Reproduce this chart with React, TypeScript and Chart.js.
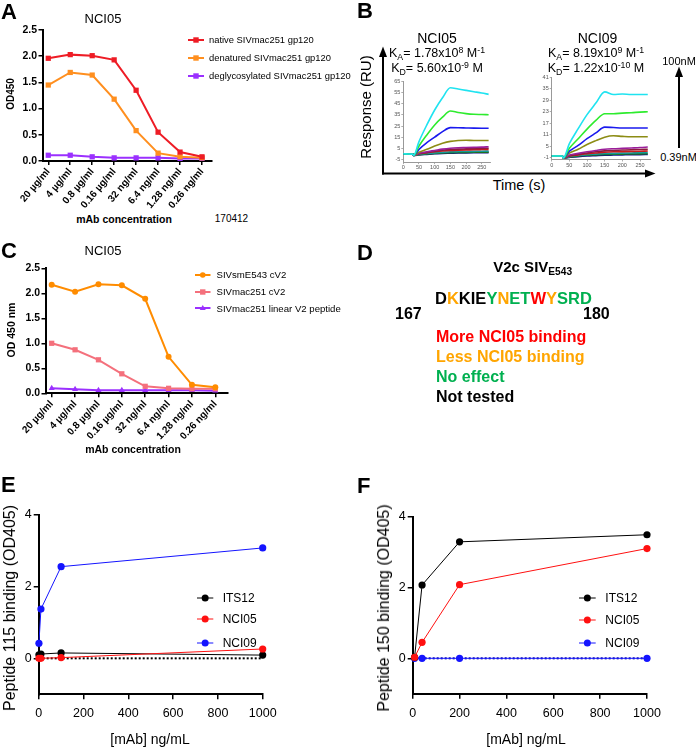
import React, { useEffect, useRef } from "react";
import { Chart, registerables } from "chart.js";

Chart.register(...registerables);

// ---------------- data ----------------
const concLabels = ["20 µg/ml", "4 µg/ml", "0.8 µg/ml", "0.16 µg/ml", "32 ng/ml", "6.4 ng/ml", "1.28 ng/ml", "0.26 ng/ml"];
const odTicks = [0, 0.5, 1, 1.5, 2, 2.5];

// Panel A
const aNative = [1.96, 2.03, 2.01, 1.93, 1.35, 0.55, 0.17, 0.08];
const aDenatured = [1.45, 1.69, 1.64, 1.18, 0.58, 0.15, 0.08, 0.06];
const aDeglyco = [0.11, 0.11, 0.08, 0.06, 0.06, 0.06, 0.05, 0.05];

// Panel C
const cSmE543 = [2.17, 2.03, 2.18, 2.16, 1.89, 0.73, 0.17, 0.12];
const cMac251 = [1.0, 0.87, 0.67, 0.39, 0.14, 0.1, 0.09, 0.09];
const cLinear = [0.1, 0.08, 0.06, 0.06, 0.06, 0.06, 0.06, 0.05];

// Panel B (SPR sensorgrams, 100 nM ... 0.39 nM)
const sprTime = [0, 15, 30, 33, 50, 75, 100, 125, 150, 175, 200, 225, 250, 272];
const sprColors = ["#1FE3F0", "#2EEB2E", "#1A1AEE", "#8C8C14", "#9A1E9A", "#8C1C3C", "#CC1A1A", "#139C9C", "#1E6E1E", "#14148C"];
const nci05Time = [0, 50, 100, 150, 200, 250];
const nci05Y = [-5, 5, 15, 25, 35, 45, 55, 65];
const nci09Y = [-1, 5, 11, 17, 23, 29, 35, 41];

const n05a = [0, -0.2, -0.3, -1.5, 11, 26, 39.5, 50.5, 59.6, 58.4, 57.2, 56, 54.8, 53.6];
const n05b = [0, -0.2, -0.3, -1.5, 7, 17, 26, 33, 38.6, 37.2, 36.2, 35.6, 35.4, 35.2];
const n05c = [0, -0.2, -0.3, -1.5, 4, 10, 15, 20, 23.6, 23.5, 23.3, 23.1, 23, 23];
const n05d = [0, -0.2, -0.3, -1.5, 1.5, 4, 7, 9.5, 11.2, 12, 12.2, 12, 12, 12];
const n05e = [0, -0.2, -0.3, -1.5, 0.5, 1.8, 3, 4.2, 5, 5.4, 5.6, 5.8, 6, 6.3];
const n05f = [0, -0.2, -0.3, -1.5, 0.2, 1.3, 2.3, 3.2, 3.8, 4.2, 4.4, 4.6, 4.8, 5];
const n05g = [0, -0.2, -0.3, -1.5, 0, 1, 1.8, 2.5, 3, 3.3, 3.5, 3.6, 3.8, 4];
const n05h = [0, -0.2, -0.3, -1.5, -0.5, 0.2, 0.8, 1.3, 1.8, 2, 2.1, 2.2, 2.3, 2.4];
const n05i = [0, -0.2, -0.3, -1.5, -0.8, -0.2, 0.3, 0.7, 1, 1.2, 1.3, 1.4, 1.5, 1.5];
const n05j = [0, -0.2, -0.3, -1.5, -1, -0.5, 0, 0.3, 0.5, 0.7, 0.8, 0.9, 1, 1];

const n09a = [0, 0, 0, -1, 6.4, 14.2, 21.5, 27.5, 33.3, 32, 32.2, 32, 32, 32];
const n09b = [0, 0, 0, -1, 4, 9, 14, 18.5, 22, 22, 22.3, 22.5, 22.8, 23];
const n09c = [0, 0, 0, -1, 2.5, 5.5, 9, 12, 15, 14.8, 14.6, 14.6, 14.6, 14.6];
const n09d = [0, 0, 0, -1, 1.5, 3.5, 6, 8, 9.8, 10.5, 10.2, 10, 10, 10];
const n09e = [0, 0, 0, -1, 0.5, 1.4, 2.2, 2.9, 3.5, 3.8, 4, 4.2, 4.4, 4.7];
const n09f = [0, 0, 0, -1, 0.2, 0.9, 1.6, 2.2, 2.7, 2.9, 3.1, 3.3, 3.4, 3.5];
const n09g = [0, 0, 0, -1, 0, 0.6, 1.2, 1.6, 2, 2.2, 2.3, 2.4, 2.5, 2.6];
const n09h = [0, 0, 0, -1, -0.3, 0.3, 0.7, 1, 1.3, 1.4, 1.5, 1.6, 1.7, 1.8];
const n09i = [0, 0, 0, -1, -0.5, 0, 0.4, 0.6, 0.8, 0.9, 1, 1.1, 1.1, 1.2];
const n09j = [0, 0, 0, -1, -0.7, -0.3, 0, 0.2, 0.4, 0.5, 0.6, 0.7, 0.7, 0.8];

const nci05Series = [n05a, n05b, n05c, n05d, n05e, n05f, n05g, n05h, n05i, n05j];
const nci09Series = [n09a, n09b, n09c, n09d, n09e, n09f, n09g, n09h, n09i, n09j];

// Panel E
const eDose = [1, 10, 100, 1000];
const eITS12 = [0.1, 0.12, 0.15, 0.09];
const eNCI05 = [0.0, 0.0, 0.02, 0.26];
const eNCI09 = [0.42, 1.37, 2.55, 3.07];

// Panel F
const fDose = [8, 40, 200, 1000];
const fITS12 = [0.03, 2.07, 3.29, 3.49];
const fNCI05 = [0.03, 0.45, 2.08, 3.1];
const fNCI09 = [0, 0, 0, 0];

const efXTicks = [0, 200, 400, 600, 800, 1000];
const efYTicks = [0, 2, 4];

// ---------------- helpers ----------------
const FONT = "Arial, 'Liberation Sans', Helvetica, sans-serif";

type Box = { left: number; top: number; width: number; height: number; yw: number; padTop: number; padRight: number; xh: number };

const pts = (xs: number[], ys: number[]) => ys.map((y, i) => ({ x: xs[i], y }));
const idxPts = (ys: number[]) => ys.map((y, i) => ({ x: i, y }));

function axis(o: any) {
  return {
    type: "linear",
    min: o.min,
    max: o.max,
    afterBuildTicks: (s: any) => {
      s.ticks = o.ticks.map((v: number) => ({ value: v }));
    },
    afterFit: o.fit,
    ticks: {
      autoSkip: false,
      color: o.color || "#000",
      padding: o.padding ?? 2,
      font: o.font,
      maxRotation: o.rotation ?? 0,
      minRotation: o.rotation ?? 0,
      callback: o.label || ((v: number) => String(v)),
    },
    grid: {
      drawOnChartArea: false,
      drawTicks: true,
      tickLength: o.tickLen ?? 4,
      color: o.tickColor || "#000",
      lineWidth: o.tickWidth ?? 1.5,
    },
    border: { display: true, color: o.borderColor || "#000", width: o.borderWidth ?? 2 },
  };
}

function opts(box: Box, x: any, y: any) {
  return {
    responsive: false,
    maintainAspectRatio: false,
    animation: false,
    devicePixelRatio: 1,
    events: [],
    layout: { autoPadding: false, padding: { top: box.padTop, right: box.padRight, left: 0, bottom: 0 } },
    plugins: { legend: { display: false }, tooltip: { enabled: false }, title: { display: false } },
    scales: { x: { ...x, afterFit: (s: any) => { s.height = box.xh; } }, y: { ...y, afterFit: (s: any) => { s.width = box.yw; } } },
  };
}

function ChartCanvas({ box, make }: { box: Box; make: () => any }) {
  const ref = useRef<HTMLCanvasElement>(null);
  useEffect(() => {
    const chart = new Chart(ref.current as HTMLCanvasElement, make());
    return () => chart.destroy();
  }, []);
  return (
    <canvas
      ref={ref}
      width={box.width}
      height={box.height}
      style={{ position: "absolute", left: box.left, top: box.top, width: box.width, height: box.height }}
    />
  );
}

function Txt(p: { x: number; y: number; size: number; bold?: boolean; color?: string; center?: boolean; rotate?: boolean; children: any }) {
  const base: any = {
    position: "absolute",
    fontSize: p.size,
    lineHeight: `${p.size}px`,
    fontWeight: p.bold ? "bold" : "normal",
    color: p.color || "#000",
    whiteSpace: "nowrap",
    fontFamily: FONT,
  };
  if (p.rotate) {
    return <div style={{ ...base, left: p.x, top: p.y, transform: "translate(-50%, -50%) rotate(-90deg)" }}>{p.children}</div>;
  }
  return (
    <div style={{ ...base, left: p.x, top: p.y - p.size * 0.5, transform: p.center ? "translateX(-50%)" : undefined }}>
      {p.children}
    </div>
  );
}

function LegendRow(p: { x1: number; x2: number; cy: number; color: string; kind: string; r: number; lw: number; tx: number; size: number; label: string }) {
  const w = p.x2 - p.x1 + 14;
  const mx = (p.x2 - p.x1) / 2 + 7;
  let marker: any = null;
  if (p.kind === "rect") marker = <rect x={mx - p.r} y={7 - p.r} width={2 * p.r} height={2 * p.r} fill={p.color} />;
  else if (p.kind === "circle") marker = <circle cx={mx} cy={7} r={p.r} fill={p.color} />;
  else marker = <polygon points={`${mx},${7 - p.r} ${mx - p.r},${7 + p.r * 0.7} ${mx + p.r},${7 + p.r * 0.7}`} fill={p.color} />;
  return (
    <>
      <svg width={w} height={14} style={{ position: "absolute", left: p.x1 - 7, top: p.cy - 7 }}>
        <line x1={7} y1={7} x2={w - 7} y2={7} stroke={p.color} strokeWidth={p.lw} />
        {marker}
      </svg>
      <Txt x={p.tx} y={p.cy} size={p.size}>{p.label}</Txt>
    </>
  );
}

const sub = (t: string) => <span style={{ fontSize: "0.7em", position: "relative", top: "0.3em" }}>{t}</span>;
const sup = (t: string) => <span style={{ fontSize: "0.7em", position: "relative", top: "-0.45em" }}>{t}</span>;

// ---------------- chart configs ----------------
const boxA: Box = { left: 10, top: 22, width: 208, height: 187, yw: 33, padTop: 8, padRight: 6, xh: 48 };
const boxC: Box = { left: 12, top: 260, width: 221, height: 181, yw: 34, padTop: 8.3, padRight: 5.3, xh: 47.7 };
const boxB1: Box = { left: 388, top: 74, width: 106, height: 98, yw: 15.3, padTop: 7.7, padRight: 3.5, xh: 9.9 };
const boxB2: Box = { left: 537, top: 70, width: 118, height: 100, yw: 14.7, padTop: 7.1, padRight: 4.4, xh: 10.5 };
const boxE: Box = { left: 14, top: 505, width: 271, height: 223, yw: 24.7, padTop: 9.3, padRight: 22.3, xh: 33.7 };
const boxF: Box = { left: 388, top: 505, width: 282, height: 223, yw: 24.7, padTop: 11.7, padRight: 23, xh: 34.3 };

const tickBold = { family: FONT, size: 10, weight: "bold" };

function elisaSet(label: string, data: number[], color: string, style: string, r: number) {
  return {
    label,
    data: idxPts(data),
    borderColor: color,
    backgroundColor: color,
    borderWidth: 2,
    pointStyle: style,
    pointRadius: r,
    pointBorderWidth: 0,
    clip: false,
  };
}

function makeA() {
  return {
    type: "line",
    data: {
      datasets: [
        elisaSet("native SIVmac251 gp120", aNative, "#EE1C25", "rect", 3.7),
        elisaSet("denatured SIVmac251 gp120", aDenatured, "#FF8F1F", "rect", 3.7),
        elisaSet("deglycosylated SIVmac251 gp120", aDeglyco, "#9B30FF", "rect", 3.7),
      ],
    },
    options: opts(
      boxA,
      axis({ min: -0.24, max: 7.455, ticks: concLabels.map((_, i) => i), rotation: 50, font: tickBold, tickLen: 4, padding: 1, label: (v: number) => concLabels[Math.round(v)] }),
      axis({ min: 0, max: 2.5, ticks: odTicks, font: { ...tickBold, size: 10.5 }, tickLen: 4.5, padding: 1.5, label: (v: number) => v.toFixed(1) })
    ),
  };
}

function makeC() {
  return {
    type: "line",
    data: {
      datasets: [
        elisaSet("SIVsmE543 cV2", cSmE543, "#FF8C00", "circle", 3),
        elisaSet("SIVmac251 cV2", cMac251, "#F4707C", "rect", 3.7),
        elisaSet("SIVmac251 linear V2 peptide", cLinear, "#9B30FF", "triangle", 3.5),
      ],
    },
    options: opts(
      boxC,
      axis({ min: -0.244, max: 7.53, ticks: concLabels.map((_, i) => i), rotation: 47, font: tickBold, tickLen: 4, padding: 1, label: (v: number) => concLabels[Math.round(v)] }),
      axis({ min: 0, max: 2.5, ticks: odTicks, font: { ...tickBold, size: 10.5 }, tickLen: 4.5, padding: 1.5, label: (v: number) => v.toFixed(1) })
    ),
  };
}

function makeSpr(box: Box, series: number[][], xmax: number, ymin: number, ymax: number, yTicks: number[]) {
  const small = { family: FONT, size: 5.5 };
  return {
    type: "line",
    data: {
      datasets: series.map((s, i) => ({
        data: pts(sprTime, s),
        borderColor: sprColors[i],
        borderWidth: 1.6,
        pointRadius: 0,
        cubicInterpolationMode: "monotone",
        clip: false,
      })),
    },
    options: opts(
      box,
      axis({ min: 0, max: xmax, ticks: nci05Time, font: small, color: "#555", tickLen: 2, padding: 0.5, tickColor: "#999", tickWidth: 0.8, borderColor: "#999", borderWidth: 1 }),
      axis({ min: ymin, max: ymax, ticks: yTicks, font: small, color: "#555", tickLen: 2, padding: 1, tickColor: "#999", tickWidth: 0.8, borderColor: "#999", borderWidth: 1 })
    ),
  };
}

function pepSet(label: string, xs: number[], ys: number[], color: string) {
  return {
    label,
    data: pts(xs, ys),
    borderColor: color,
    backgroundColor: color,
    borderWidth: 1,
    pointStyle: "circle",
    pointRadius: 3.6,
    pointBorderWidth: 0,
    clip: false,
  };
}

function pepAxes(box: Box) {
  const f = { family: FONT, size: 12.5 };
  return opts(
    box,
    axis({ min: 0, max: 1000, ticks: efXTicks, font: f, tickLen: 5, padding: 7 }),
    axis({ min: -1, max: 4, ticks: efYTicks, font: f, tickLen: 5, padding: 2 })
  );
}

function makeE() {
  return {
    type: "line",
    data: {
      datasets: [
        pepSet("NCI05", eDose, eNCI05, "#FF1010"),
        pepSet("ITS12", eDose, eITS12, "#000000"),
        pepSet("NCI09", eDose, eNCI09, "#1414FF"),
        { data: [{ x: 0, y: 0 }, { x: 1000, y: 0 }], borderColor: "#000", borderWidth: 2, borderDash: [2, 2], pointRadius: 0, clip: false },
      ],
    },
    options: pepAxes(boxE),
  };
}

function makeF() {
  return {
    type: "line",
    data: {
      datasets: [
        pepSet("NCI05", fDose, fNCI05, "#FF1010"),
        pepSet("ITS12", fDose, fITS12, "#000000"),
        pepSet("NCI09", fDose, fNCI09, "#1414FF"),
        { data: [{ x: 0, y: 0 }, { x: 1000, y: 0 }], borderColor: "#2020B0", borderWidth: 2.2, borderDash: [2, 2], pointRadius: 0, clip: false },
      ],
    },
    options: pepAxes(boxF),
  };
}

// ---------------- app ----------------
const seq: [string, string][] = [
  ["D", "#000"], ["K", "#FFA500"], ["K", "#000"], ["I", "#000"], ["E", "#000"], ["Y", "#00B050"], ["N", "#FFA500"],
  ["E", "#00B050"], ["T", "#00B050"], ["W", "#FF0000"], ["Y", "#FFA500"], ["S", "#00B050"], ["R", "#00B050"], ["D", "#00B050"],
];

export default function App() {
  return (
    <div style={{ position: "absolute", left: 0, top: 0, width: 696, height: 751, background: "#fff", overflow: "hidden", fontFamily: FONT }}>
      {/* Panel A */}
      <ChartCanvas box={boxA} make={makeA} />
      <Txt x={1} y={12} size={22} bold>A</Txt>
      <Txt x={103} y={18.5} size={13} center>NCI05</Txt>
      <Txt x={11} y={94} size={10} bold rotate>OD450</Txt>
      <Txt x={124} y={219} size={10.5} bold center>mAb concentration</Txt>
      <Txt x={231.5} y={219} size={10} center>170412</Txt>
      <LegendRow x1={188} x2={204} cy={40} color="#EE1C25" kind="rect" r={2.7} lw={2} tx={209} size={9.4} label="native SIVmac251 gp120" />
      <LegendRow x1={188} x2={204} cy={58} color="#FF8F1F" kind="rect" r={2.7} lw={2} tx={209} size={9.4} label="denatured SIVmac251 gp120" />
      <LegendRow x1={188} x2={204} cy={76} color="#9B30FF" kind="rect" r={2.7} lw={2} tx={209} size={9.4} label="deglycosylated SIVmac251 gp120" />

      {/* Panel B */}
      <Txt x={357} y={11} size={22} bold>B</Txt>
      <ChartCanvas box={boxB1} make={() => makeSpr(boxB1, nci05Series, 278, -7.5, 65, nci05Y)} />
      <ChartCanvas box={boxB2} make={() => makeSpr(boxB2, nci09Series, 280, -1.8, 41, nci09Y)} />
      <Txt x={437} y={38.3} size={14} center>NCI05</Txt>
      <Txt x={437} y={53.5} size={12.5} center>K{sub("A")}= 1.78x10{sup("8")} M{sup("-1")}</Txt>
      <Txt x={437} y={68.3} size={12.5} center>K{sub("D")}= 5.60x10{sup("-9")} M</Txt>
      <Txt x={597.5} y={38.3} size={14} center>NCI09</Txt>
      <Txt x={596} y={53.5} size={12.5} center>K{sub("A")}= 8.19x10{sup("9")} M{sup("-1")}</Txt>
      <Txt x={596} y={68.3} size={12.5} center>K{sub("D")}= 1.22x10{sup("-10")} M</Txt>
      <Txt x={365} y={107} size={15} rotate>Response (RU)</Txt>
      <Txt x={519} y={185.5} size={14.5} center>Time (s)</Txt>
      <Txt x={679} y={61.5} size={11} center>100nM</Txt>
      <Txt x={678.5} y={157} size={11} center>0.39nM</Txt>
      <svg width={696} height={751} style={{ position: "absolute", left: 0, top: 0, pointerEvents: "none" }}>
        <line x1={383} y1={174.5} x2={383} y2={55} stroke="#000" strokeWidth={2} />
        <polygon points="383,46.5 379,57 387,57" fill="#000" />
        <line x1={382} y1={173.5} x2={646} y2={173.5} stroke="#000" strokeWidth={2} />
        <polygon points="655.5,173.5 645,169.5 645,177.5" fill="#000" />
        <line x1={679} y1={148} x2={679} y2={75} stroke="#000" strokeWidth={2} />
        <polygon points="679,66.5 675,77 683,77" fill="#000" />
      </svg>

      {/* Panel C */}
      <ChartCanvas box={boxC} make={makeC} />
      <Txt x={1} y={251} size={22} bold>C</Txt>
      <Txt x={103} y={250} size={13} center>NCI05</Txt>
      <Txt x={11} y={330} size={10.5} bold rotate>OD 450 nm</Txt>
      <Txt x={133} y={449} size={10.5} bold center>mAb concentration</Txt>
      <LegendRow x1={195} x2={210.5} cy={275} color="#FF8C00" kind="circle" r={2.8} lw={2} tx={216.5} size={9.6} label="SIVsmE543 cV2" />
      <LegendRow x1={195} x2={210.5} cy={291.7} color="#F4707C" kind="rect" r={2.7} lw={2} tx={216.5} size={9.6} label="SIVmac251 cV2" />
      <LegendRow x1={195} x2={210.5} cy={308.3} color="#9B30FF" kind="tri" r={3} lw={2} tx={216.5} size={9.6} label="SIVmac251 linear V2 peptide" />

      {/* Panel D */}
      <Txt x={357} y={253} size={22} bold>D</Txt>
      <Txt x={532.7} y={266.2} size={15} bold center>
        V2c SIV<span style={{ fontSize: "0.68em", position: "relative", top: "0.35em" }}>E543</span>
      </Txt>
      <Txt x={435} y={297.8} size={16.5} bold>
        {seq.map(([ch, col], i) => (
          <span key={i} style={{ color: col }}>{ch}</span>
        ))}
      </Txt>
      <Txt x={395} y={314.2} size={16} bold>167</Txt>
      <Txt x={583} y={314.2} size={16} bold>180</Txt>
      <Txt x={436} y={337.2} size={16} bold color="#FF0000">More NCI05 binding</Txt>
      <Txt x={436} y={357.2} size={16} bold color="#FFA500">Less NCI05 binding</Txt>
      <Txt x={436} y={377.2} size={16} bold color="#00B050">No effect</Txt>
      <Txt x={436} y={397.2} size={16} bold>Not tested</Txt>

      {/* Panel E */}
      <ChartCanvas box={boxE} make={makeE} />
      <Txt x={1} y={485} size={22} bold>E</Txt>
      <Txt x={9.7} y={608} size={16} rotate>Peptide 115 binding (OD405)</Txt>
      <Txt x={150} y={738.5} size={14} center>[mAb] ng/mL</Txt>
      <LegendRow x1={197} x2={213.3} cy={598.3} color="#000000" kind="circle" r={3.5} lw={1} tx={222.7} size={12} label="ITS12" />
      <LegendRow x1={197} x2={213.3} cy={619.3} color="#FF1010" kind="circle" r={3.5} lw={1} tx={222.7} size={12} label="NCI05" />
      <LegendRow x1={197} x2={213.3} cy={642.7} color="#1414FF" kind="circle" r={3.5} lw={1} tx={222.7} size={12} label="NCI09" />

      {/* Panel F */}
      <ChartCanvas box={boxF} make={makeF} />
      <Txt x={357} y={486} size={22} bold>F</Txt>
      <Txt x={384} y={608} size={16} rotate>Peptide 150 binding (OD405)</Txt>
      <Txt x={526} y={738.5} size={14} center>[mAb] ng/mL</Txt>
      <LegendRow x1={579.3} x2={596} cy={597.7} color="#000000" kind="circle" r={3.5} lw={1} tx={605.3} size={12} label="ITS12" />
      <LegendRow x1={579.3} x2={596} cy={620} color="#FF1010" kind="circle" r={3.5} lw={1} tx={605.3} size={12} label="NCI05" />
      <LegendRow x1={579.3} x2={596} cy={643.3} color="#1414FF" kind="circle" r={3.5} lw={1} tx={605.3} size={12} label="NCI09" />
    </div>
  );
}
